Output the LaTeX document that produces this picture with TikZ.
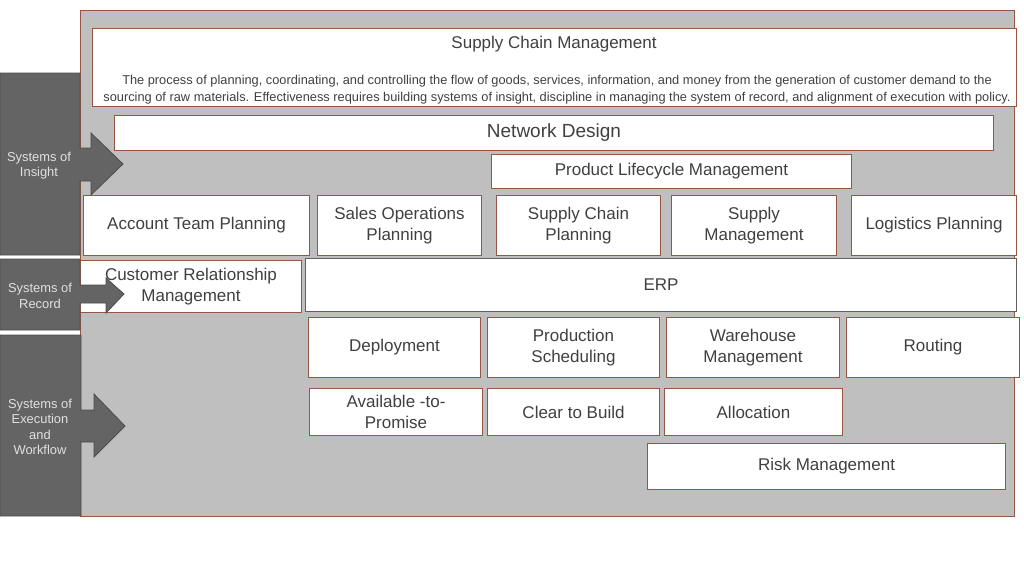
\documentclass[tikz,border=0pt]{standalone}
\usepackage{fontspec}
\setmainfont{Liberation Sans}
\definecolor{panelgray}{RGB}{191,191,191}
\definecolor{edgebrown}{RGB}{150,86,66}
\definecolor{erpedge}{RGB}{96,96,96}
\definecolor{arrowgray}{RGB}{100,100,100}
\definecolor{textgray}{RGB}{64,64,64}
\def\fs#1#2{\fontsize{#1}{#2}\selectfont}

\begin{document}
\begin{tikzpicture}[x=1pt,y=-1pt,
  box/.style={draw=edgebrown, fill=white, line width=1pt, anchor=north west,
    inner sep=0pt, align=center, text=textgray, font=\fs{17}{21}},
  sysarrow/.style={draw=black!70, fill=arrowgray, line width=0.8pt},
  syslabel/.style={text=white!88!black, align=center, font=\fs{12.9}{15.3}}]
\useasboundingbox (0,0) rectangle (1024,576);

% background panel
\draw[draw=edgebrown, fill=panelgray, line width=1pt] (80,10) rectangle (1014,516);

% header
\node[box, minimum width=924, minimum height=78] (hdr) at (92,28) {};
\node[text=textgray, font=\fs{17}{19}] (hdrtitle) at (554,44) {Supply Chain Management};
\node[text=textgray, align=center, font=\fs{12.8}{17}] (hdrdesc) at (557,90)
  {The process of planning, coordinating, and controlling the flow of goods, services, information, and money from the generation of customer demand to the\\
   sourcing of raw materials. Effectiveness requires building systems of insight, discipline in managing the system of record, and alignment of execution with policy.};

\node[box, minimum width=879, minimum height=35, font=\fs{19}{22}] (nd) at (114,115) {Network Design};
\node[box, minimum width=360, minimum height=34, font=\fs{17}{19}] (plm) at (491,154) {Product Lifecycle Management};

% planning row
\foreach \nm/\x/\w/\txt in {atp/83/226/{Account Team Planning},
    sop/317/164/{Sales Operations\\Planning},
    scp/496/164/{Supply Chain\\Planning},
    sm/671/165/{Supply\\Management},
    lp/851/165/{Logistics Planning}}{
  \node[box, minimum width=\w, minimum height=60] (\nm) at (\x,195) {\txt};
}

% record row
\node[box, minimum width=221, minimum height=52] (crm) at (80,260) {Customer Relationship\\Management};
\node[box, draw=erpedge, minimum width=711, minimum height=53] (erp) at (305,258) {ERP};

% execution rows
\foreach \nm/\x/\w/\txt in {dep/308/172/{Deployment},
    ps/487/172/{Production\\Scheduling},
    wm/666/173/{Warehouse\\Management},
    rt/846/173/{Routing}}{
  \node[box, minimum width=\w, minimum height=60] (\nm) at (\x,317) {\txt};
}
\foreach \nm/\x/\w/\txt in {avp/309/173/{Available -to-\\Promise},
    ctb/487/172/{Clear to Build},
    alloc/664/178/{Allocation}}{
  \node[box, minimum width=\w, minimum height=47] (\nm) at (\x,388) {\txt};
}
\node[box, minimum width=358, minimum height=46] (risk) at (647,443) {Risk Management};

% systems arrows
\draw[sysarrow] (0,73) -- (80,73) -- (80,148) -- (91,148) -- (91,133) -- (123,164)
  -- (91,195) -- (91,181) -- (80,181) -- (80,255) -- (0,255) -- cycle;
\draw[sysarrow] (0,259) -- (80,259) -- (80,285) -- (106,285) -- (106,278) -- (124,294)
  -- (106,313) -- (106,303) -- (80,303) -- (80,330) -- (0,330) -- cycle;
\draw[sysarrow] (0,335) -- (81,335) -- (81,410) -- (94,410) -- (94,394) -- (125,426)
  -- (94,457) -- (94,442) -- (81,442) -- (81,516) -- (0,516) -- cycle;
\node[syslabel] (insight) at (39,166) {Systems of\\Insight};
\node[syslabel] (record) at (40,296) {Systems of\\Record};
\node[syslabel] (execution) at (40,427) {Systems of\\Execution\\and\\Workflow};
\end{tikzpicture}
\end{document}
